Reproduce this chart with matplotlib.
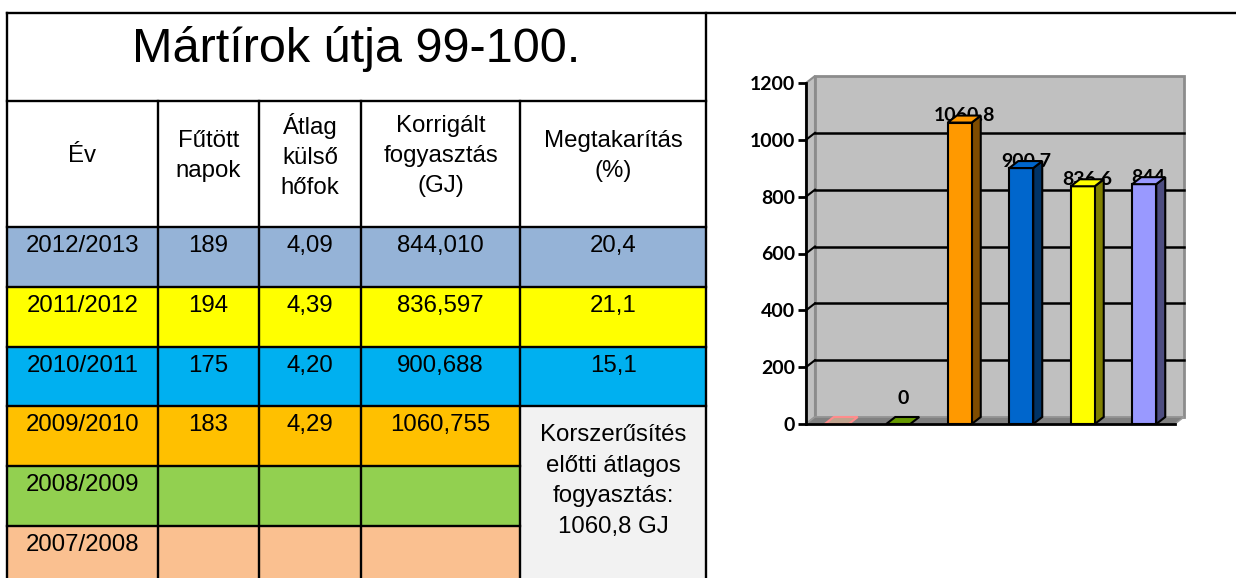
import numpy as np
import matplotlib
matplotlib.use('Agg')
import matplotlib.pyplot as plt
from matplotlib.patches import Rectangle, Polygon

# table data
title = 'Mártírok útja 99-100.'
headers = ['Év', 'Fűtött\nnapok', 'Átlag\nkülső\nhőfok', 'Korrigált\nfogyasztás\n(GJ)', 'Megtakarítás\n(%)']
years = ['2012/2013', '2011/2012', '2010/2011', '2009/2010', '2008/2009', '2007/2008']
napok = ['189', '194', '175', '183', '', '']
hofok = ['4,09', '4,39', '4,20', '4,29', '', '']
fogyasztas = ['844,010', '836,597', '900,688', '1060,755', '', '']
megtakaritas = ['20,4', '21,1', '15,1']
note = 'Korszerűsítés\nelőtti átlagos\nfogyasztás:\n1060,8 GJ'
row_colors = ['#95b3d7', '#ffff00', '#00b0f0', '#ffc000', '#92d050', '#fac090']

# chart data
categories = ['2007/2008', '2008/2009', '2009/2010', '2010/2011', '2011/2012', '2012/2013']
bar_values = [np.nan, 0, 1060.8, 900.7, 836.6, 844]
bar_front = ['#bfa38e', '#669900', '#ff9900', '#0066cc', '#ffff00', '#9999ff']
bar_side = ['#bfa38e', '#669900', '#7f4c00', '#003366', '#808000', '#4d4d80']
bar_edge = ['#ff8c8c', 'black', 'black', 'black', 'black', 'black']

W, H = 1236, 578
fig = plt.figure(figsize=(W / 100, H / 100), dpi=100)

# ---- table, drawn in pixel coordinates ----
at = fig.add_axes([0, 0, 1, 1])
at.set_xlim(0, W)
at.set_ylim(H, 0)
at.axis('off')

col_x = [7, 158, 259, 361, 520, 706]
row_y = [227, 287, 347, 406, 466, 526, 590]
tfont = 'Liberation Sans'
fs = 17.3

for i, c in enumerate(row_colors):
    ncol = 5 if i < 3 else 4
    at.add_patch(Rectangle((col_x[0], row_y[i]), col_x[ncol] - col_x[0], row_y[i + 1] - row_y[i],
                           facecolor=c, edgecolor='none', zorder=0))
at.add_patch(Rectangle((col_x[4], row_y[3]), col_x[5] - col_x[4], row_y[-1] - row_y[3],
                       facecolor='#f2f2f2', edgecolor='none', zorder=0))

lw = 1.7
at.plot([7, W], [13, 13], color='black', lw=lw)
for y in [101, 227, 287, 347, 406]:
    at.plot([7, 706], [y, y], color='black', lw=lw)
for y in [466, 526]:
    at.plot([7, 520], [y, y], color='black', lw=lw)
for x in [7, 706]:
    at.plot([x, x], [13, H], color='black', lw=lw)
for x in col_x[1:-1]:
    at.plot([x, x], [101, H], color='black', lw=lw)

at.text(356, 62, title, ha='center', va='baseline', fontsize=35, family=tfont)

centers = [(col_x[k] + col_x[k + 1]) / 2 for k in range(5)]
for k, h in enumerate(headers):
    at.text(centers[k], 156, h, ha='center', va='center', fontsize=fs, family=tfont,
            linespacing=1.45)

cols = [years, napok, hofok, fogyasztas]
for i in range(len(years)):
    base = row_y[i] + 25
    for k, col in enumerate(cols):
        at.text(centers[k], base, col[i], ha='center', va='baseline', fontsize=fs, family=tfont)
    if i < len(megtakaritas):
        at.text(centers[4], base, megtakaritas[i], ha='center', va='baseline', fontsize=fs, family=tfont)
at.text(centers[4], 481, note, ha='center', va='center', fontsize=fs, family=tfont, linespacing=1.5)

# ---- 3D-look column chart ----
x0, x1, y0, y1 = 806, 1175, 424, 83
ax = fig.add_axes([x0 / W, (H - y0) / H, (x1 - x0) / W, (y0 - y1) / H])
ax.set_xlim(-0.5, 5.5)
ax.set_ylim(0, 1200)
ax.patch.set_visible(False)
for s in ['top', 'right']:
    ax.spines[s].set_visible(False)
ax.spines['left'].set_linewidth(2)
ax.spines['bottom'].set_linewidth(2)
ax.spines['left'].set_zorder(6)
ax.spines['bottom'].set_zorder(6)
ax.set_xticks([])
ax.set_yticks(range(0, 1201, 200))
ax.tick_params(axis='y', direction='out', length=6, width=2, pad=2, labelsize=14)
for t in ax.get_yticklabels():
    t.set_fontweight('bold')
    t.set_family('Lato')

# depth offset of the 3D effect, 9 px right and 7 px up
p = ax.transData.transform((0, 0))
ddx, ddy = ax.transData.inverted().transform(p + np.array([9, 7]))

wall = '#c0c0c0'
wall_edge = '#8c8c8c'
ax.add_patch(Polygon([(-0.5, 0), (-0.5 + ddx, ddy), (-0.5 + ddx, 1200 + ddy), (-0.5, 1200)],
                     facecolor=wall, edgecolor=wall_edge, lw=1.5, clip_on=False, zorder=1))
ax.add_patch(Rectangle((-0.5 + ddx, ddy), 6, 1200, facecolor=wall, edgecolor=wall_edge,
                       lw=2, clip_on=False, zorder=1))
for v in range(200, 1200, 200):
    ax.plot([-0.5 + ddx, 5.5 + ddx], [v + ddy, v + ddy], color='black', lw=1.8, clip_on=False, zorder=1.5)
    ax.plot([-0.5, -0.5 + ddx], [v, v + ddy], color='black', lw=1.5, clip_on=False, zorder=1.5)
ax.add_patch(Polygon([(-0.5, 0), (5.5, 0), (5.5 + ddx, ddy), (-0.5 + ddx, ddy)],
                     facecolor='#808080', edgecolor='#9a9a9a', lw=1, clip_on=False, zorder=1.6))

bw = 0.39
for i, v in enumerate(bar_values):
    h = 0 if np.isnan(v) else v
    l, r = i - bw / 2, i + bw / 2
    if h > 0:
        ax.add_patch(Polygon([(r, 0), (r + ddx, ddy), (r + ddx, h + ddy), (r, h)],
                             facecolor=bar_side[i], edgecolor='black', lw=1.5, clip_on=False, zorder=3))
        ax.add_patch(Rectangle((l, 0), bw, h, facecolor=bar_front[i], edgecolor='black',
                               lw=1.5, clip_on=False, zorder=3))
    ax.add_patch(Polygon([(l, h), (l + ddx, h + ddy), (r + ddx, h + ddy), (r, h)],
                         facecolor=bar_front[i], edgecolor=bar_edge[i], lw=1.5, clip_on=False, zorder=3))
    if not np.isnan(v):
        ax.text(i + ddx / 2, max(h, 65) + 4, f'{v:g}', ha='center', va='baseline',
                fontsize=14, fontweight='bold', family='Lato', zorder=2)

fig.savefig('out.png', dpi=100)
